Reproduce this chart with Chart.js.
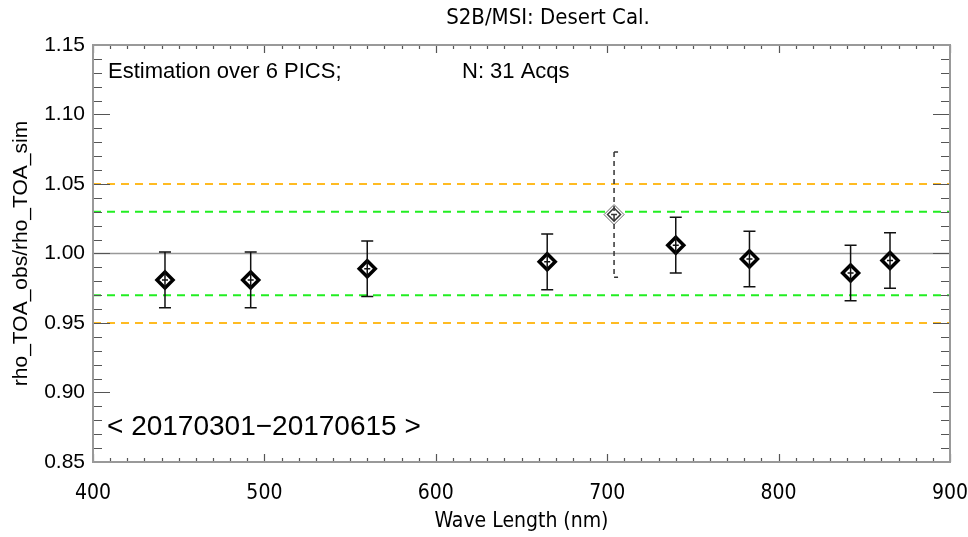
<!DOCTYPE html>
<html>
<head>
<meta charset="utf-8">
<script src="https://cdn.jsdelivr.net/npm/chart.js@4"></script>
<style>
  html, body { margin: 0; padding: 0; background: #fff; }
  #wrap { width: 968px; height: 537px; }
</style>
</head>
<body>
<div id="wrap"><canvas id="calChart" width="968" height="537"></canvas></div>
<script>
// band centre wavelengths (nm) and measured ratio obs/sim
const wavelengths = [442, 492, 560, 665, 704, 740, 783, 842, 865];
const ratios      = [0.981, 0.981, 0.989, 0.994, 1.028, 1.006, 0.996, 0.986, 0.995];
const errors      = [0.020, 0.020, 0.020, 0.020, 0.045, 0.020, 0.020, 0.020, 0.020];
const flagged     = [false, false, false, false, true, false, false, false, false];

const xTicks = [400, 500, 600, 700, 800, 900];
const yTicks = [0.85, 0.90, 0.95, 1.00, 1.05, 1.10, 1.15];

const refLine   = [1.00];
const greenBand = [0.97, 1.03];
const orangeBand = [0.95, 1.05];

const hershey = "'DejaVu Sans Condensed', 'Liberation Sans Narrow', sans-serif";
const helv = "'Liberation Sans', Arial, sans-serif";

function hline(y, color, dash, width) {
    return {
        type: 'line',
        data: [{ x: xTicks[0], y: y }, { x: xTicks[xTicks.length - 1], y: y }],
        borderColor: color,
        borderWidth: width,
        borderDash: dash,
        pointRadius: 0,
        showLine: true,
        order: 2
    };
}

const datasets = [];
orangeBand.forEach(v => datasets.push(hline(v, '#ffbb22', [8, 6], 2)));
greenBand.forEach(v => datasets.push(hline(v, '#22ee22', [8, 6], 2)));
refLine.forEach(v => datasets.push(hline(v, '#999999', [], 1.5)));

datasets.push({
    label: 'ratio',
    data: wavelengths.map((w, i) => ({ x: w, y: ratios[i] })),
    pointStyle: 'rectRot',
    pointRadius: flagged.map(f => f ? 10 : 8),
    pointBackgroundColor: '#ffffff',
    pointBorderColor: flagged.map(f => f ? '#666666' : '#000000'),
    pointBorderWidth: flagged.map(f => f ? 1 : 3.5),
    showLine: false,
    order: 1
});

const errorBars = {
    id: 'errorBars',
    afterDatasetsDraw(chart) {
        const ctx = chart.ctx;
        const xs = chart.scales.x, ys = chart.scales.y;
        ctx.save();
        wavelengths.forEach((w, i) => {
            const px = xs.getPixelForValue(w);
            const py = ys.getPixelForValue(ratios[i]);
            const top = ys.getPixelForValue(ratios[i] + errors[i]);
            const bot = ys.getPixelForValue(ratios[i] - errors[i]);
            ctx.strokeStyle = flagged[i] ? '#333' : '#111';
            ctx.lineWidth = 1.5;
            ctx.setLineDash(flagged[i] ? [5, 4] : []);
            ctx.beginPath();
            ctx.moveTo(px, top); ctx.lineTo(px, bot);
            ctx.stroke();
            ctx.setLineDash([]);
            ctx.beginPath();
            if (flagged[i]) {
                ctx.moveTo(px, top); ctx.lineTo(px + 4, top);
                ctx.moveTo(px, bot); ctx.lineTo(px + 4, bot);
                // inner outline of the flagged marker
                ctx.moveTo(px, py - 6.5); ctx.lineTo(px + 6.5, py);
                ctx.lineTo(px, py + 6.5); ctx.lineTo(px - 6.5, py); ctx.closePath();
            } else {
                ctx.moveTo(px - 6, top); ctx.lineTo(px + 6, top);
                ctx.moveTo(px - 6, bot); ctx.lineTo(px + 6, bot);
            }
            ctx.moveTo(px - 3, py); ctx.lineTo(px + 3, py);
            ctx.stroke();
        });
        ctx.restore();
    }
};

const frameAndText = {
    id: 'frameAndText',
    afterDraw(chart) {
        const ctx = chart.ctx;
        const a = chart.chartArea;
        const xs = chart.scales.x, ys = chart.scales.y;
        ctx.save();
        // inward ticks
        ctx.strokeStyle = '#555';
        ctx.lineWidth = 1.2;
        ctx.beginPath();
        for (let v = xTicks[0]; v <= xTicks[xTicks.length - 1]; v += 10) {
            const px = Math.round(xs.getPixelForValue(v)) + 0.5;
            const len = (v % 100 === 0) ? 8 : 4;
            ctx.moveTo(px, a.bottom); ctx.lineTo(px, a.bottom - len);
            ctx.moveTo(px, a.top); ctx.lineTo(px, a.top + len);
        }
        for (let k = 85; k <= 115; k++) {
            const py = Math.round(ys.getPixelForValue(k / 100)) + 0.5;
            const len = (k % 5 === 0) ? 17 : 9;
            ctx.moveTo(a.left, py); ctx.lineTo(a.left + len, py);
            ctx.moveTo(a.right, py); ctx.lineTo(a.right - len, py);
        }
        ctx.stroke();
        // frame
        ctx.strokeStyle = '#999';
        ctx.lineWidth = 2;
        ctx.strokeRect(a.left, a.top, a.right - a.left, a.bottom - a.top);

        // title and annotations
        ctx.fillStyle = '#000';
        ctx.textBaseline = 'middle';
        ctx.textAlign = 'center';
        ctx.font = '22px ' + hershey;
        ctx.fillText('S2B/MSI: Desert Cal.', 548, 18);

        ctx.textAlign = 'left';
        ctx.font = '22px ' + helv;
        ctx.fillText('Estimation over 6 PICS;', a.left + 15, a.top + 27);
        ctx.fillText('N: 31 Acqs', a.left + 369, a.top + 27);
        ctx.font = '28px ' + helv;
        ctx.fillText('< 20170301\u221220170615 >', a.left + 14, a.top + 382);
        ctx.restore();
    }
};

new Chart(document.getElementById('calChart'), {
    type: 'scatter',
    data: { datasets: datasets },
    options: {
        responsive: false,
        animation: false,
        layout: { padding: { top: 45, right: 18, left: 0, bottom: 0 } },
        plugins: {
            legend: { display: false },
            tooltip: { enabled: false }
        },
        scales: {
            x: {
                type: 'linear',
                min: xTicks[0],
                max: xTicks[xTicks.length - 1],
                afterBuildTicks: s => { s.ticks = xTicks.map(v => ({ value: v })); },
                afterFit: s => { s.height = 75; s.paddingLeft = 0; s.paddingRight = 0; },
                grid: { display: false, drawTicks: false },
                border: { display: false },
                ticks: {
                    color: '#000',
                    padding: 19,
                    maxRotation: 0,
                    font: { family: hershey, size: 21 }
                },
                title: {
                    display: true,
                    text: 'Wave Length (nm)',
                    color: '#000',
                    padding: { bottom: 3 },
                    font: { family: hershey, size: 21 }
                }
            },
            y: {
                type: 'linear',
                min: yTicks[0],
                max: yTicks[yTicks.length - 1],
                afterBuildTicks: s => { s.ticks = yTicks.map(v => ({ value: v })); },
                afterFit: s => { s.width = 93; s.paddingTop = 0; s.paddingBottom = 0; },
                grid: { display: false, drawTicks: false },
                border: { display: false },
                ticks: {
                    color: '#000',
                    padding: 8,
                    font: { family: helv, size: 21 },
                    callback: v => v.toFixed(2)
                },
                title: {
                    display: true,
                    text: 'rho_TOA_obs/rho_TOA_sim',
                    color: '#000',
                    padding: { top: 9 },
                    font: { family: helv, size: 21 }
                }
            }
        }
    },
    plugins: [errorBars, frameAndText]
});
</script>
</body>
</html>
